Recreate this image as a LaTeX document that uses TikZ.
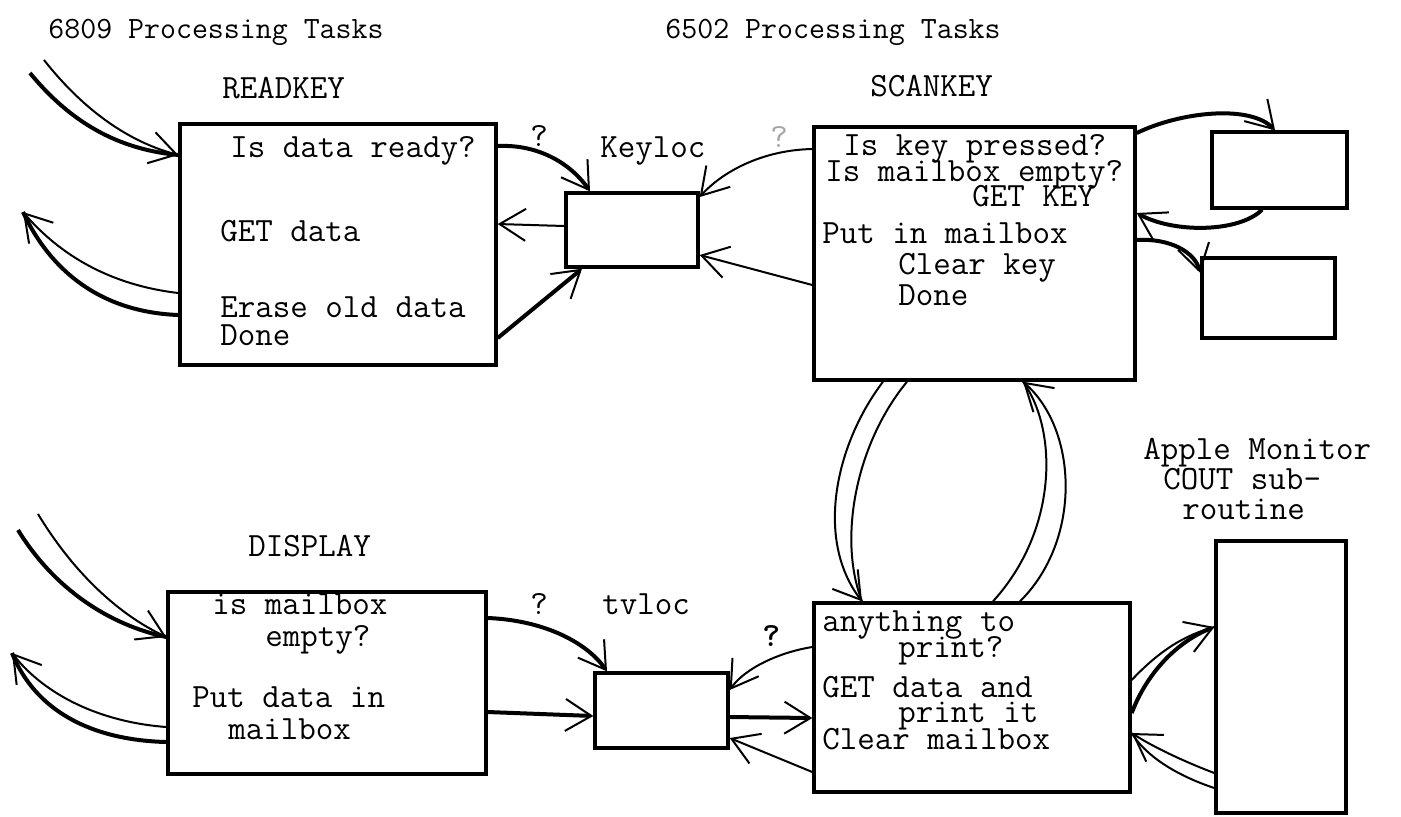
\documentclass[tikz,border=0pt]{standalone}
\usepackage{fontspec}
\usetikzlibrary{arrows.meta,calc,fit}

\begin{document}
\begin{tikzpicture}[x=0.5pt,y=-0.5pt,
  frame/.style={draw,line width=1.7pt,inner sep=0pt},
  lbl/.style={anchor=base west,inner sep=0pt,font=\ttfamily\fontsize{17}{17}\selectfont},
  ttl/.style={lbl,font=\ttfamily\fontsize{15.5}{16}\selectfont},
  wire/.style={line width=1pt},
  heavy/.style={line width=2pt},
  tip/.style={-{Straight Barb[length=13pt,width=16pt,line width=1pt]}},
]
\useasboundingbox (0,0) rectangle (1401,816);

% task boxes and mailboxes
\node[frame,fit={(180,124)(496,365)}] (rk) {};
\node[frame,fit={(566,193)(698,267)}] (kl) {};
\node[frame,fit={(814,127)(1135,380)}] (sk) {};
\node[frame,fit={(1212,132)(1347,208)}] (b1) {};
\node[frame,fit={(1202,258)(1335,338)}] (b2) {};
\node[frame,fit={(168,592)(486,774)}] (dp) {};
\node[frame,fit={(595,673)(728,748)}] (tv) {};
\node[frame,fit={(814,603)(1130,792)}] (pr) {};
\node[frame,fit={(1216,541)(1346,813)}] (am) {};

% headings
\node[ttl] (t1) at (48,38) {6809 Processing Tasks};
\node[ttl] (t2) at (665,38) {6502 Processing Tasks};
\node[lbl] (n1) at (222,98) {READKEY};
\node[lbl] (n2) at (870,96) {SCANKEY};
\node[lbl] (d0) at (248,556) {DISPLAY};
\node[lbl] (kn) at (600,157) {Keyloc};
\node[lbl] (tn) at (602,614) {tvloc};
\node[lbl] (a1) at (1143,459) {Apple Monitor};
\node[lbl] (a2) at (1163,489) {COUT sub-};
\node[lbl] (a3) at (1182,519) {routine};

% READKEY steps
\node[lbl] (r1) at (230,157) {Is data ready?};
\node[lbl] (r2) at (220,241) {GET data};
\node[lbl] (r3) at (220,317) {Erase old data};
\node[lbl] (r4) at (220,345) {Done};

% SCANKEY steps
\node[lbl] (s1) at (843,155) {Is key pressed?};
\node[lbl] (s2) at (825,181) {Is mailbox empty?};
\node[lbl] (s3) at (972,206) {GET KEY};
\node[lbl] (s4) at (822,243) {Put in mailbox};
\node[lbl] (s5) at (898,274) {Clear key};
\node[lbl] (s6) at (898,305) {Done};

% DISPLAY steps
\node[lbl] (d1) at (212,614) {is mailbox};
\node[lbl] (d2) at (265,646) {empty?};
\node[lbl] (d3) at (192,707) {Put data in};
\node[lbl] (d4) at (228,739) {mailbox};

% print task steps
\node[lbl] (p1) at (822,631) {anything to};
\node[lbl] (p2) at (898,657) {print?};
\node[lbl] (p3) at (822,697) {GET data and};
\node[lbl] (p4) at (898,722) {print it};
\node[lbl] (p5) at (822,749) {Clear mailbox};

% test marks
\node[lbl] (q1) at (530,146) {?};
\node[lbl,text=black!35] (q2) at (770,147) {?};
\node[lbl] (q3) at (530,614) {?};
\node[lbl,font=\ttfamily\bfseries\fontsize{17}{17}\selectfont] (q4) at (762,646) {?};

% loose ends of the entry/exit arrows
\coordinate (inA1) at (30,73);
\coordinate (inA2) at (44,60);
\coordinate (outA) at (23,212);
\coordinate (inB1) at (18,530);
\coordinate (inB2) at (38,514);
\coordinate (outB) at (12,653);

% READKEY entry and exit
\draw[heavy] (inA1) .. controls (75,128) and (125,150) .. (rk.west |- 0,155);
\draw[wire,tip] (inA2) .. controls (85,112) and (130,142) .. (rk.west |- 0,155);
\draw[wire,tip] (rk.west |- 0,293) .. controls (110,285) and (60,255) .. (outA);
\draw[heavy] (rk.west |- 0,315) .. controls (100,312) and (50,270) .. (outA);

% DISPLAY entry and exit
\draw[heavy] (inB1) .. controls (55,590) and (110,625) .. (dp.west |- 0,637);
\draw[wire,tip] (inB2) .. controls (75,575) and (120,615) .. (dp.west |- 0,637);
\draw[wire,tip] (dp.west |- 0,727) .. controls (100,722) and (45,695) .. (outB);
\draw[heavy] (dp.west |- 0,742) .. controls (90,740) and (35,710) .. (outB);

% Keyloc traffic
\draw[heavy,tip] (rk.east |- 0,146) .. controls (540,144) and (572,165) .. (kl.north -| 590,0);
\draw[wire,tip] (kl.west |- 0,226) -- (rk.east |- 0,224);
\draw[heavy,tip] (rk.east |- 0,338) -- (kl.south -| 582,0);
\draw[wire,tip] (sk.west |- 0,149) .. controls (762,150) and (722,172) .. (kl.east |- 0,197);
\draw[wire,tip] (sk.west |- 0,285) -- (kl.east |- 0,255);

% SCANKEY side boxes
\draw[heavy,tip] (sk.east |- 0,133) .. controls (1180,112) and (1250,104) .. (b1.north -| 1275,0);
\draw[heavy,tip] (b1.south -| 1262,0) .. controls (1240,232) and (1175,234) .. (sk.east |- 0,213);
\draw[heavy,tip] (sk.east |- 0,240) .. controls (1170,238) and (1195,252) .. (b2.west |- 0,273);

% SCANKEY <-> print task
\draw[wire] (sk.south -| 907,0) .. controls (855,445) and (838,540) .. (pr.north -| 862,0);
\draw[wire,tip] (sk.south -| 883,0) .. controls (835,445) and (815,540) .. (pr.north -| 862,0);
\draw[wire] (pr.north -| 993,0) .. controls (1058,530) and (1058,430) .. (sk.south -| 1023,0);
\draw[wire,tip] (pr.north -| 1020,0) .. controls (1082,540) and (1078,430) .. (sk.south -| 1023,0);

% tvloc traffic
\draw[heavy,tip] (dp.east |- 0,618) .. controls (540,620) and (585,640) .. (tv.north -| 607,0);
\draw[heavy,tip] (dp.east |- 0,712) -- (tv.west |- 0,716);
\draw[wire,tip] (pr.west |- 0,647) .. controls (780,652) and (745,668) .. (tv.east |- 0,690);
\draw[heavy,tip] (tv.east |- 0,717) -- (pr.west |- 0,718);
\draw[wire,tip] (pr.west |- 0,772) -- (tv.east |- 0,738);

% print task <-> COUT
\draw[heavy,tip] (pr.east |- 0,713) .. controls (1148,670) and (1180,640) .. (am.west |- 0,627);
\draw[wire] (pr.east |- 0,680) .. controls (1160,650) and (1185,635) .. (am.west |- 0,627);
\draw[wire,tip] (am.west |- 0,773) .. controls (1180,760) and (1150,745) .. (pr.east |- 0,733);
\draw[wire] (am.west |- 0,788) .. controls (1175,775) and (1145,755) .. (pr.east |- 0,733);
\end{tikzpicture}
\end{document}
